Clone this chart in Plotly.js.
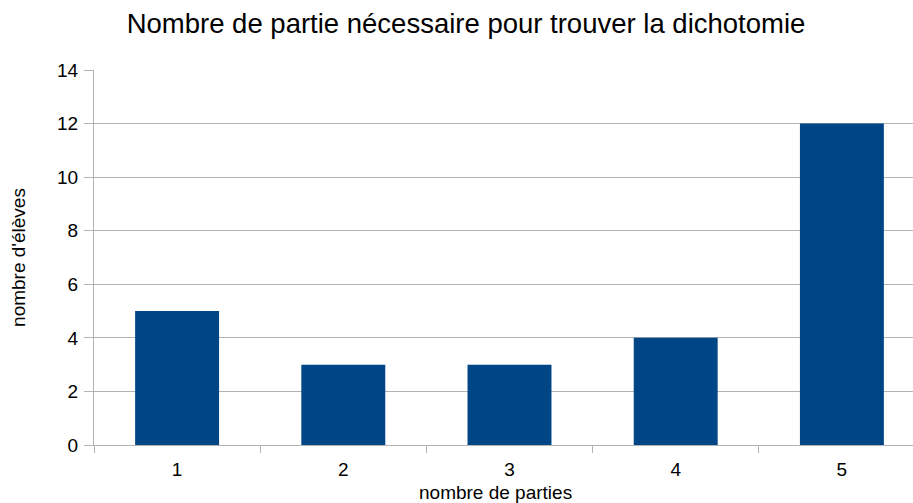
<!DOCTYPE html>
<html>
<head>
<meta charset="utf-8">
<script src="https://cdn.plot.ly/plotly-3.0.1.min.js"></script>
<style>
html,body{margin:0;padding:0;overflow:hidden;background:#fff;width:913px;height:503px;}
#chart{width:930px;height:503px;}
</style>
</head>
<body>
<div id="chart"></div>
<script>
const categories = ["1", "2", "3", "4", "5"];
const eleves = [5, 3, 3, 4, 12];
const yTicks = [0, 2, 4, 6, 8, 10, 12, 14];

const font = "Liberation Sans, Arial, sans-serif";
const grey = "#b3b3b3";

Plotly.newPlot("chart", [{
  type: "bar",
  x: categories,
  y: eleves,
  marker: {color: "#004586", line: {width: 0}},
  hoverinfo: "x+y"
}], {
  width: 930,
  height: 503,
  margin: {l: 94, r: 5, t: 70, b: 58},
  paper_bgcolor: "#fff",
  plot_bgcolor: "#fff",
  bargap: 0.495,
  showlegend: false,
  title: {
    text: "Nombre de partie nécessaire pour trouver la dichotomie",
    font: {family: font, size: 27.5, color: "#000"},
    x: 466 / 930, xanchor: "center",
    y: 1 - 23 / 503, yanchor: "middle"
  },
  annotations: [{
    text: "nombre de parties",
    xref: "paper", yref: "paper",
    x: (495 - 94) / 831, xanchor: "center",
    y: -(492 - 445) / 375, yanchor: "middle",
    showarrow: false,
    font: {family: font, size: 19, color: "#000"}
  }],
  xaxis: {
    type: "category",
    tickson: "boundaries",
    ticks: "outside",
    ticklen: 7,
    tickcolor: grey,
    tickwidth: 1,
    showline: true,
    linecolor: grey,
    linewidth: 1,
    showgrid: false,
    zeroline: false,
    ticklabelstandoff: 7,
    tickfont: {family: font, size: 19, color: "#000"},
    fixedrange: true
  },
  yaxis: {
    range: [0, 14],
    tickvals: yTicks,
    ticktext: yTicks.map(String),
    ticks: "outside",
    ticklen: 9,
    tickcolor: grey,
    tickwidth: 1,
    showline: true,
    linecolor: grey,
    linewidth: 1,
    showgrid: true,
    gridcolor: grey,
    gridwidth: 1,
    zeroline: false,
    ticklabelstandoff: 2,
    tickfont: {family: font, size: 19, color: "#000"},
    title: {text: "nombre d'élèves", font: {family: font, size: 19, color: "#000"}, standoff: 26},
    fixedrange: true
  }
}, {displayModeBar: false, staticPlot: true});
</script>
</body>
</html>
